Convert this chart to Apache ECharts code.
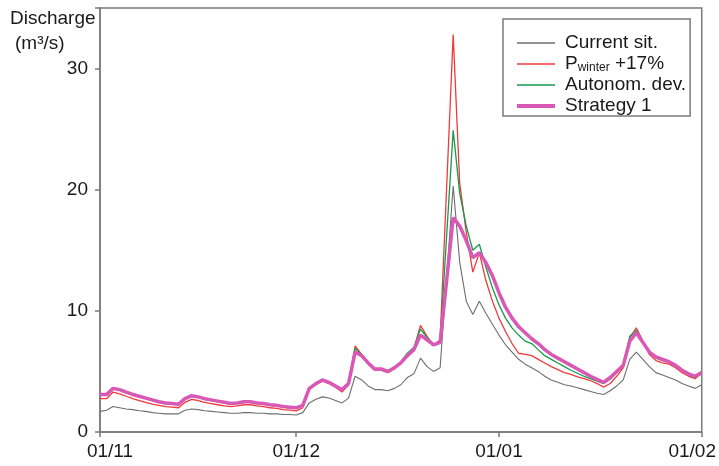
<!DOCTYPE html>
<html><head><meta charset="utf-8">
<script src="https://cdn.jsdelivr.net/npm/echarts@6/dist/echarts.min.js"></script>
<style>html,body{margin:0;padding:0;background:#fff}#c{width:719px;height:466px}</style>
</head><body><div id="c"></div>
<script>
// Daily categories 1 Nov -> 1 Feb (93 days)
const startDate = new Date(2000, 10, 1);
const categories = [];
for (let i = 0; i < 93; i++) {
  const d = new Date(startDate.getFullYear(), startDate.getMonth(), startDate.getDate() + i);
  categories.push(String(d.getDate()).padStart(2, '0') + '/' + String(d.getMonth() + 1).padStart(2, '0'));
}
const tickLabels = ['01/11', '01/12', '01/01', '01/02'];
const yTicks = [0, 10, 20, 30];

const currentSit = [
  1.7, 1.8, 2.1, 2.0, 1.9, 1.85, 1.75, 1.7, 1.6, 1.55,
  1.5, 1.5, 1.5, 1.8, 1.9, 1.85, 1.75, 1.7, 1.65, 1.6,
  1.55, 1.55, 1.6, 1.6, 1.55, 1.55, 1.5, 1.5, 1.45, 1.45,
  1.4, 1.6, 2.4, 2.7, 2.9, 2.8, 2.6, 2.4, 2.8, 4.6,
  4.3, 3.8, 3.5, 3.5, 3.4, 3.6, 3.9, 4.5, 4.8, 6.1,
  5.4, 5.0, 5.3, 12.8, 20.3, 14.0, 10.8, 9.7, 10.8, 9.8,
  8.9, 8.0, 7.2, 6.6, 6.0, 5.6, 5.3, 5.0, 4.6, 4.3,
  4.1, 3.9, 3.8, 3.65, 3.5, 3.35, 3.2, 3.1, 3.4, 3.8,
  4.3, 6.0, 6.6, 6.0, 5.4, 4.9, 4.7, 4.5, 4.3, 4.0,
  3.8, 3.6, 3.9
];
const pWinter = [
  2.75, 2.75, 3.3, 3.15, 2.95, 2.75, 2.6, 2.45, 2.3, 2.2,
  2.1, 2.05, 2.0, 2.45, 2.7, 2.6, 2.45, 2.35, 2.25, 2.15,
  2.1, 2.15, 2.25, 2.25, 2.15, 2.1, 2.0, 1.95, 1.85, 1.8,
  1.75, 2.0, 3.5, 3.9, 4.2, 4.0, 3.7, 3.3, 3.9, 7.1,
  6.4, 5.6, 5.1, 5.1, 4.9, 5.2, 5.7, 6.4, 6.9, 8.8,
  7.9, 7.2, 7.6, 20.2, 32.8, 20.5, 16.5, 13.2, 14.8, 12.5,
  10.8, 9.4, 8.3, 7.3, 6.5, 6.4, 6.3, 6.0, 5.7, 5.4,
  5.15, 4.9, 4.75, 4.55, 4.4, 4.25, 4.0, 3.7, 4.0, 4.6,
  5.3, 7.8, 8.6, 7.5, 6.4, 5.9, 5.7, 5.6, 5.3, 4.9,
  4.6, 4.4, 4.9
];
const autonomDev = [
  3.05, 3.05, 3.55, 3.45, 3.25, 3.05, 2.9, 2.75, 2.6, 2.45,
  2.35, 2.3, 2.25, 2.7, 2.95, 2.85, 2.7, 2.6, 2.5, 2.4,
  2.3, 2.35, 2.45, 2.45, 2.35, 2.3, 2.2, 2.15, 2.05, 2.0,
  1.95, 2.15, 3.6, 4.0, 4.3, 4.1, 3.8, 3.45, 4.0, 6.9,
  6.4, 5.7, 5.2, 5.2, 5.0, 5.35, 5.8, 6.5, 7.0, 8.5,
  7.8, 7.2, 7.5, 16.2, 24.9, 19.7, 17.0, 15.0, 15.5, 13.6,
  11.9, 10.5, 9.4, 8.6, 8.0, 7.5, 7.3, 6.8, 6.3, 6.0,
  5.7, 5.4, 5.1, 4.85, 4.6, 4.4, 4.2, 4.0, 4.35, 4.9,
  5.6, 7.9, 8.4, 7.5, 6.6, 6.1, 5.9, 5.8, 5.4, 5.1,
  4.7, 4.5, 4.9
];
const strategy1 = [
  3.1, 3.1, 3.6, 3.5, 3.3, 3.1, 2.95, 2.8, 2.65, 2.5,
  2.4, 2.35, 2.3, 2.75, 3.0, 2.9, 2.75, 2.65, 2.55, 2.45,
  2.35, 2.4, 2.5, 2.5, 2.4, 2.35, 2.25, 2.2, 2.1, 2.05,
  2.0, 2.2, 3.6, 4.0, 4.3, 4.1, 3.8, 3.5, 4.0, 6.6,
  6.3, 5.7, 5.2, 5.2, 5.0, 5.3, 5.7, 6.3, 6.8, 8.0,
  7.6, 7.2, 7.4, 12.5, 17.7, 17.0, 15.8, 14.4, 14.8, 14.0,
  12.9, 11.5, 10.3, 9.4, 8.7, 8.2, 7.7, 7.3, 6.8, 6.4,
  6.1, 5.8, 5.5, 5.2, 4.9, 4.6, 4.35, 4.1, 4.5, 5.0,
  5.5, 7.5, 8.2, 7.4, 6.6, 6.2, 6.0, 5.8, 5.5, 5.1,
  4.8, 4.6, 4.9
];
const seriesNames = ['Current sit.', 'Pwinter +17%', 'Autonom. dev.', 'Strategy 1'];

const FONT = '"Liberation Sans", Arial, Helvetica, sans-serif';
const chart = echarts.init(document.getElementById('c'));
const showTick = (idx, val) => tickLabels.indexOf(categories[idx]) >= 0;

chart.setOption({
  animation: false,
  backgroundColor: '#fff',
  textStyle: { fontFamily: FONT },
  grid: { left: 100, right: 15, top: 8, bottom: 34, show: true, borderColor: '#7a7a7a', borderWidth: 1.5, containLabel: false },
  graphic: [
    { type: 'text', left: 10, top: 9, style: { text: 'Discharge', font: '19px ' + FONT, fill: '#1a1a1a' } },
    { type: 'text', left: 15, top: 34, style: { text: '(m³/s)', font: '19px ' + FONT, fill: '#1a1a1a' } }
  ],
  legend: {
    orient: 'vertical', left: 503, top: 19,
    padding: [14, 4, 0, 12], itemGap: 1, itemWidth: 38, itemHeight: 14,
    borderColor: '#7a7a7a', borderWidth: 1.5,
    itemStyle: { opacity: 0 },
    data: [
      { name: seriesNames[0], lineStyle: { width: 1.3 } },
      { name: seriesNames[1], lineStyle: { width: 1.3 } },
      { name: seriesNames[2], lineStyle: { width: 1.5 } },
      { name: seriesNames[3], lineStyle: { width: 4 } }
    ],
    formatter: function (name) {
      if (name === 'Pwinter +17%') return '{t|P}{s|winter}{t| +17%}';
      return '{t|' + name + '}';
    },
    textStyle: {
      fontSize: 19, lineHeight: 20, color: '#1a1a1a', padding: [0, 0, 0, 5],
      rich: {
        t: { fontSize: 19, fontFamily: FONT, color: '#1a1a1a', lineHeight: 20 },
        s: { fontSize: 12, fontFamily: FONT, color: '#1a1a1a', lineHeight: 20, verticalAlign: 'bottom', padding: [8, 0, 0, 0] }
      }
    }
  },
  xAxis: {
    type: 'category', data: categories, boundaryGap: false,
    axisLine: { lineStyle: { color: '#7a7a7a', width: 1.5 } },
    axisTick: { interval: showTick, length: 5, lineStyle: { color: '#7a7a7a', width: 1.5 } },
    axisLabel: {
      interval: showTick, margin: 10, fontSize: 19, color: '#1a1a1a', fontFamily: FONT,
      formatter: function (v) {
        if (v === tickLabels[0]) return '{first|' + v + '}';
        if (v === tickLabels[tickLabels.length - 1]) return '{last|' + v + '}';
        return v;
      },
      rich: {
        first: { fontSize: 19, fontFamily: FONT, color: '#1a1a1a', padding: [0, 0, 0, 20] },
        last: { fontSize: 19, fontFamily: FONT, color: '#1a1a1a', padding: [0, 19, 0, 0] }
      }
    },
    splitLine: { show: false }
  },
  yAxis: {
    type: 'value', min: 0, max: 35, interval: 10,
    axisLine: { show: true, lineStyle: { color: '#7a7a7a', width: 1.5 } },
    axisTick: { show: true, length: 5, lineStyle: { color: '#7a7a7a', width: 1.5 } },
    axisLabel: {
      margin: 12, fontSize: 19, color: '#1a1a1a', fontFamily: FONT,
      formatter: function (v) { return yTicks.indexOf(v) >= 0 ? String(v) : ''; }
    },
    splitLine: { show: false }
  },
  series: [
    { name: seriesNames[0], type: 'line', data: currentSit, symbol: 'none', color: '#6e6e6e', lineStyle: { width: 1.1, color: '#6e6e6e' }, z: 2 },
    { name: seriesNames[1], type: 'line', data: pWinter, symbol: 'none', color: '#f03a3a', lineStyle: { width: 1.3, color: '#f03a3a' }, z: 3 },
    { name: seriesNames[2], type: 'line', data: autonomDev, symbol: 'none', color: '#169a4c', lineStyle: { width: 1.3, color: '#169a4c' }, z: 4 },
    { name: seriesNames[3], type: 'line', data: strategy1, symbol: 'none', color: '#d957b5', lineStyle: { width: 3.5, color: '#d957b5' }, z: 5 }
  ]
});
</script>
</body></html>
